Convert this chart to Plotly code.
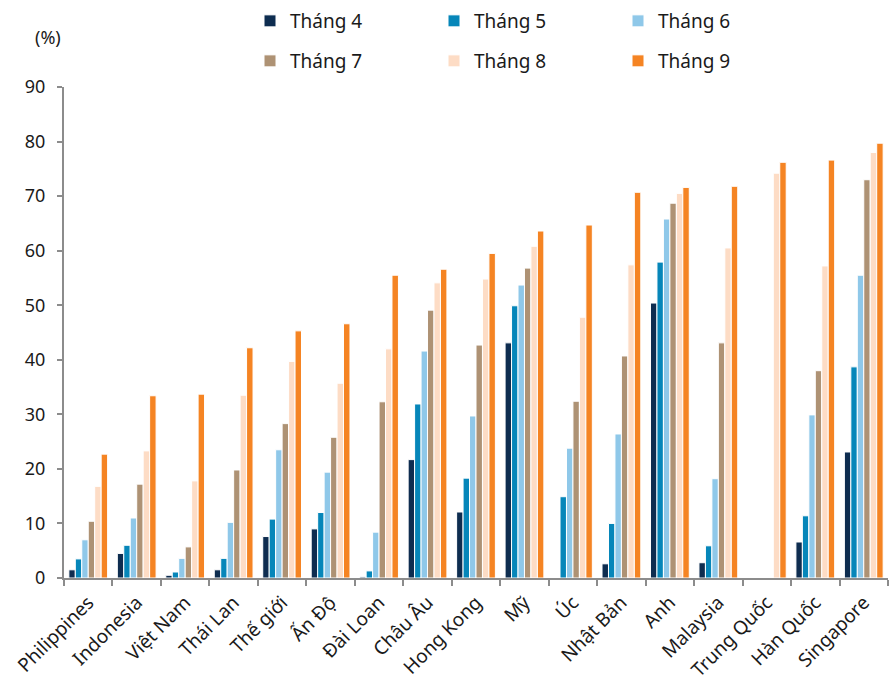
import plotly.graph_objects as go

categories = ["Philippines", "Indonesia", "Việt Nam", "Thái Lan", "Thế giới", "Ấn Độ",
              "Đài Loan", "Châu Âu", "Hong Kong", "Mỹ", "Úc", "Nhật Bản", "Anh",
              "Malaysia", "Trung Quốc", "Hàn Quốc", "Singapore"]

thang4 = [1.5, 4.5, 0.5, 1.5, 7.6, 9.0, 0.2, 21.7, 12.1, 43.1, None, 2.6, 50.4, 2.8, None, 6.6, 23.1]
thang5 = [3.5, 6.0, 1.1, 3.6, 10.8, 12.0, 1.3, 31.9, 18.3, 49.9, 14.9, 10.0, 57.9, 5.9, None, 11.4, 38.7]
thang6 = [7.0, 11.0, 3.6, 10.2, 23.5, 19.4, 8.4, 41.6, 29.7, 53.7, 23.8, 26.4, 65.8, 18.2, None, 29.9, 55.5]
thang7 = [10.4, 17.2, 5.7, 19.8, 28.3, 25.8, 32.3, 49.1, 42.7, 56.8, 32.4, 40.7, 68.7, 43.1, None, 38.0, 73.0]
thang8 = [16.8, 23.3, 17.8, 33.5, 39.7, 35.7, 42.0, 54.1, 54.8, 60.8, 47.8, 57.4, 70.5, 60.5, 74.2, 57.2, 78.0]
thang9 = [22.7, 33.4, 33.7, 42.2, 45.3, 46.6, 55.5, 56.6, 59.5, 63.6, 64.7, 70.7, 71.6, 71.8, 76.2, 76.6, 79.7]

series = [
    ("Tháng 4", thang4, "#0e2d50", "legend"),
    ("Tháng 5", thang5, "#0686b9", "legend"),
    ("Tháng 6", thang6, "#8fc8e9", "legend"),
    ("Tháng 7", thang7, "#ae9274", "legend2"),
    ("Tháng 8", thang8, "#fddcc5", "legend2"),
    ("Tháng 9", thang9, "#f58423", "legend2"),
]

FONT = "Noto Sans, Open Sans, sans-serif"
TEXT = "#1a1a1a"

fig = go.Figure()
for name, vals, color, leg in series:
    fig.add_trace(go.Bar(
        name=name, x=categories, y=vals, legend=leg,
        marker=dict(color=color, line=dict(color="white", width=1)),
    ))

# plot area in pixels
W, H = 891, 682
ML, MR, MT, MB = 64, 3, 87, 104
plot_w = W - ML - MR
plot_h = H - MT - MB

legend_common = dict(
    orientation="h", xanchor="left", yanchor="middle",
    x=(250 - ML) / plot_w,
    entrywidth=139, entrywidthmode="pixels",
    font=dict(family=FONT, size=19, color=TEXT),
    bgcolor="rgba(0,0,0,0)", itemwidth=30,
)

fig.update_layout(
    width=W, height=H,
    paper_bgcolor="white", plot_bgcolor="white",
    margin=dict(l=ML, r=MR, t=MT, b=MB, autoexpand=False),
    barmode="group", bargap=0.2, bargroupgap=0.0,
    font=dict(family=FONT, size=18, color=TEXT),
    legend=dict(y=1 + (MT - 21) / plot_h, **legend_common),
    legend2=dict(y=1 + (MT - 61) / plot_h, **legend_common),
    xaxis=dict(
        showline=True, linecolor="#8c8c8c", linewidth=2,
        ticks="outside", tickson="boundaries", ticklen=6, tickcolor="#8c8c8c", tickwidth=2,
        tickangle=-45, tickfont=dict(size=19, family=FONT, color=TEXT),
        ticklabelstandoff=4, automargin=False,
        showgrid=False,
    ),
    yaxis=dict(
        range=[0, 90], dtick=10,
        showline=True, linecolor="#8c8c8c", linewidth=2,
        ticks="outside", ticklen=5, tickcolor="#8c8c8c", tickwidth=2,
        ticklabelstandoff=8, automargin=False,
        showgrid=False, zeroline=False,
        tickfont=dict(size=18, family=FONT, color=TEXT),
    ),
    annotations=[dict(
        text="(%)", xref="paper", yref="paper",
        x=(48 - ML) / plot_w, y=1 + (MT - 37) / plot_h,
        showarrow=False, xanchor="center", yanchor="middle",
        font=dict(size=18, family=FONT, color=TEXT),
    )],
)

fig.write_html("out.html")
